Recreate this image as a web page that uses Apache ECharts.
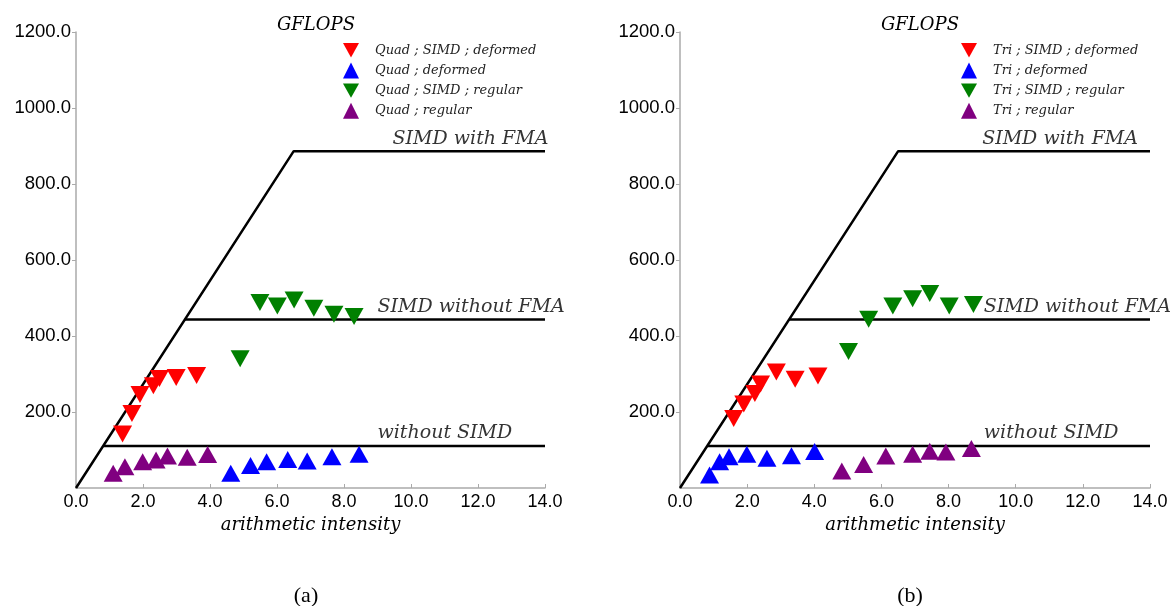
<!DOCTYPE html>
<html>
<head>
<meta charset="utf-8">
<script src="https://cdn.jsdelivr.net/npm/echarts@6/dist/echarts.min.js"></script>
<style>
  html, body { margin: 0; padding: 0; background: #fff; }
  #main { width: 1171px; height: 606px; }
</style>
</head>
<body>
<div id="main"></div>
<script>
// roofline data: [arithmetic intensity, GFLOPS]
const quadSimdDeformed = [[1.39,142],[1.67,196],[1.91,246],[2.31,269],[2.49,288],[2.99,291],[3.60,296]]
const quadDeformed     = [[4.62,39],[5.21,59],[5.69,69],[6.32,75],[6.90,71],[7.64,82],[8.45,89]]
const quadSimdRegular  = [[4.90,340],[5.49,488],[6.01,479],[6.51,495],[7.10,473],[7.70,457],[8.30,451]]
const quadRegular      = [[1.11,39],[1.46,56],[1.99,69],[2.39,74],[2.73,84],[3.32,81],[3.93,88]]

const triSimdDeformed = [[1.60,183],[1.90,221],[2.23,249],[2.40,274],[2.87,305],[3.43,286],[4.11,295]]
const triDeformed     = [[0.88,34],[1.18,69],[1.46,82],[1.99,89],[2.59,78],[3.32,85],[4.01,96]]
const triSimdRegular  = [[5.02,359],[5.62,444],[6.34,479],[6.93,498],[7.44,512],[8.02,479],[8.74,483]]
const triRegular      = [[4.82,45],[5.47,62],[6.13,84],[6.93,89],[7.44,97],[7.92,95],[8.68,104]]

// peak performance roofs and memory bandwidth slope
const roofNames = ['without SIMD', 'SIMD without FMA', 'SIMD with FMA']
const roofPeaks = [110.8, 443.2, 886.4]
const bandwidth = 136.4
const xMax = 14

const mathFont = '"DejaVu Serif", "Liberation Serif", serif'
const numFont = '"Liberation Sans", Arial, sans-serif'
const downTri = 'path://M0,0L20,0L10,18Z'

function roofSeries(gi, labelX) {
  const out = []
  roofPeaks.forEach(function (p, i) {
    const knee = p / bandwidth
    const pts = i === roofPeaks.length - 1 ? [[0, 0], [knee, p], [xMax, p]] : [[knee, p], [xMax, p]]
    out.push({
      type: 'line', xAxisIndex: gi, yAxisIndex: gi, data: pts,
      symbol: 'none', silent: true, z: 1,
      lineStyle: { color: '#000', width: 2.5 }
    })
  })
  out.push({
    type: 'scatter', xAxisIndex: gi, yAxisIndex: gi, symbolSize: 0, silent: true,
    data: roofPeaks.map(function (p, i) { return { value: [labelX[i], p], name: roofNames[i] } }),
    label: {
      show: true, position: [0, -3], align: 'left', verticalAlign: 'bottom',
      formatter: '{b}', fontFamily: mathFont, fontStyle: 'italic', fontSize: 19, color: '#000'
    }
  })
  return out
}

function pointSeries(gi, name, data, color, down) {
  return {
    name: name, type: 'scatter', xAxisIndex: gi, yAxisIndex: gi, data: data, z: 3,
    symbol: down ? downTri : 'triangle', symbolSize: [19, 17],
    itemStyle: { color: color, opacity: 1 }
  }
}

function legendFor(left, names) {
  return {
    orient: 'vertical', left: left, top: 38, itemGap: 5, itemWidth: 16, itemHeight: 16,
    data: names.map(function (n, i) { return { name: n, icon: (i % 2 === 0) ? downTri : 'triangle' } }),
    textStyle: { fontFamily: mathFont, fontStyle: 'italic', fontSize: 13, color: '#222', padding: [0, 0, 0, 11] }
  }
}

function xAx(gi) {
  return {
    gridIndex: gi, type: 'value', min: 0, max: xMax, interval: 2,
    name: 'arithmetic intensity', nameLocation: 'middle', nameGap: 27,
    nameTextStyle: { fontFamily: mathFont, fontStyle: 'italic', fontSize: 18, color: '#000' },
    axisLine: { lineStyle: { color: '#aaa', width: 1.5 } },
    axisTick: { inside: true, length: 4, lineStyle: { color: '#aaa' } },
    axisLabel: { formatter: function (v) { return v.toFixed(1) }, fontFamily: numFont, fontSize: 18, color: '#000', margin: 5 },
    splitLine: { show: false }
  }
}

function yAx(gi) {
  return {
    gridIndex: gi, type: 'value', min: 0, max: 1200, interval: 200,
    axisLine: { show: true, lineStyle: { color: '#aaa', width: 1.5 } },
    axisTick: { show: true, length: 4, lineStyle: { color: '#aaa' } },
    axisLabel: { showMinLabel: false, formatter: function (v) { return v.toFixed(1) }, fontFamily: numFont, fontSize: 18.5, color: '#000', margin: 5 },
    splitLine: { show: false }
  }
}

const quadNames = ['Quad ; SIMD ; deformed', 'Quad ; deformed', 'Quad ; SIMD ; regular', 'Quad ; regular']
const triNames = ['Tri ; SIMD ; deformed', 'Tri ; deformed', 'Tri ; SIMD ; regular', 'Tri ; regular']
const colors = ['#ff0000', '#0000ff', '#008000', '#800080']

const chart = echarts.init(document.getElementById('main'))
const titleStyle = { fontFamily: mathFont, fontStyle: 'italic', fontWeight: 'normal', fontSize: 18, color: '#000' }
const capStyle = { fontFamily: '"Liberation Serif", serif', fontWeight: 'normal', fontSize: 22, color: '#000' }

chart.setOption({
  animation: false,
  title: [
    { text: 'GFLOPS', left: 311, top: 11, textAlign: 'center', textStyle: titleStyle },
    { text: 'GFLOPS', left: 915, top: 11, textAlign: 'center', textStyle: titleStyle },
    { text: '(a)', left: 301, top: 580, textAlign: 'center', textStyle: capStyle },
    { text: '(b)', left: 905, top: 580, textAlign: 'center', textStyle: capStyle }
  ],
  legend: [legendFor(338, quadNames), legendFor(956, triNames)],
  grid: [
    { left: 76, right: 626, top: 32, bottom: 118 },
    { left: 680, right: 21, top: 32, bottom: 118 }
  ],
  xAxis: [xAx(0), xAx(1)],
  yAxis: [yAx(0), yAx(1)],
  series: [].concat(
    roofSeries(0, [9.0, 9.0, 9.45]),
    roofSeries(1, [9.05, 9.05, 9.0]),
    [
      pointSeries(0, quadNames[0], quadSimdDeformed, colors[0], true),
      pointSeries(0, quadNames[1], quadDeformed, colors[1], false),
      pointSeries(0, quadNames[2], quadSimdRegular, colors[2], true),
      pointSeries(0, quadNames[3], quadRegular, colors[3], false),
      pointSeries(1, triNames[0], triSimdDeformed, colors[0], true),
      pointSeries(1, triNames[1], triDeformed, colors[1], false),
      pointSeries(1, triNames[2], triSimdRegular, colors[2], true),
      pointSeries(1, triNames[3], triRegular, colors[3], false)
    ]
  )
})
</script>
</body>
</html>
